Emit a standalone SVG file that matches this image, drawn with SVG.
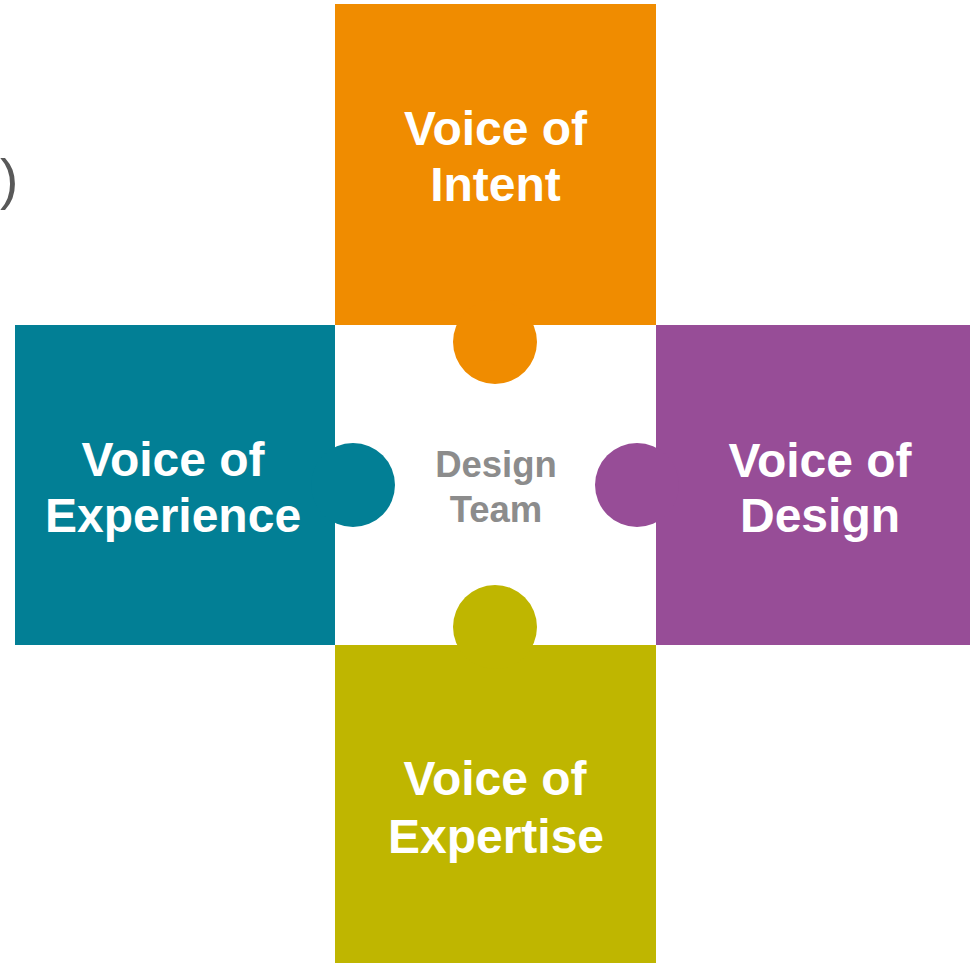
<svg xmlns="http://www.w3.org/2000/svg" width="970" height="963" viewBox="0 0 970 963">
<style>
.lbl{font-family:"Liberation Sans",Arial,sans-serif;font-weight:bold;font-size:48px;fill:#ffffff;text-anchor:middle}
.ctr{font-family:"Liberation Sans",Arial,sans-serif;font-weight:bold;font-size:36.5px;fill:#8c8c8c;text-anchor:middle}
.paren{font-family:"Liberation Sans",Arial,sans-serif;font-size:55px;fill:#595959}
</style>
<rect width="970" height="963" fill="#ffffff"/>
<text class="paren" x="0" y="198">)</text>
<g id="center">
<rect x="335" y="325" width="321" height="320" fill="#ffffff"/>
<text class="ctr" x="496" y="477">Design</text>
<text class="ctr" x="496" y="522">Team</text>
</g>
<g id="intent" fill="#f08c00">
<rect x="335" y="4" width="321" height="321"/>
<circle cx="495" cy="342" r="42"/>
<text class="lbl" x="495.5" y="145">Voice of</text>
<text class="lbl" x="495.5" y="201">Intent</text>
</g>
<g id="experience" fill="#027f95">
<rect x="15" y="325" width="320" height="320"/>
<circle cx="353" cy="485" r="42"/>
<text class="lbl" x="173" y="476">Voice of</text>
<text class="lbl" x="173" y="532">Experience</text>
</g>
<g id="design" fill="#974d97">
<rect x="656" y="325" width="314" height="320"/>
<circle cx="637" cy="485" r="42"/>
<text class="lbl" x="820" y="477">Voice of</text>
<text class="lbl" x="820" y="532">Design</text>
</g>
<g id="expertise" fill="#bfb600">
<rect x="335" y="645" width="321" height="318"/>
<circle cx="495" cy="627" r="42"/>
<text class="lbl" x="495" y="795">Voice of</text>
<text class="lbl" x="496" y="853">Expertise</text>
</g>
<g id="connectors"/>
</svg>
